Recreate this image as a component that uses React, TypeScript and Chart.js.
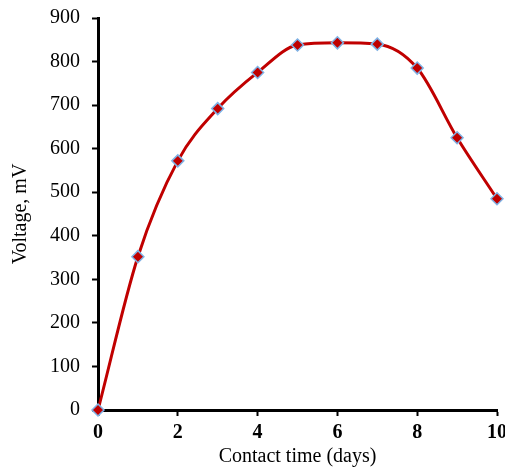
import React, { useEffect, useRef } from "react";
import { Chart, registerables } from "chart.js";

Chart.register(...registerables);

const contactDays = [0, 1, 2, 3, 4, 5, 6, 7, 8, 9, 10];
const voltageMv = [0, 352, 572, 692, 775, 838, 843, 840, 785, 625, 485];
const xAxisTitle = "Contact time (days)";
const yAxisTitle = "Voltage, mV";

export default function App() {
  const ref = useRef<HTMLCanvasElement | null>(null);
  useEffect(() => {
    if (!ref.current) return;
    const font = "'Liberation Serif', 'Times New Roman', serif";
    const chart = new Chart(ref.current, {
      type: "line",
      data: {
        datasets: [
          {
            data: contactDays.map((d, i) => ({ x: d, y: voltageMv[i] })),
            borderColor: "#c00000",
            borderWidth: 3,
            cubicInterpolationMode: "monotone",
            tension: 0.4,
            pointStyle: "rectRot",
            pointRadius: 6,
            pointBackgroundColor: "#c00000",
            pointBorderColor: "#7fb2e5",
            pointBorderWidth: 1.5,
            clip: false,
          } as any,
        ],
      },
      options: {
        animation: false,
        responsive: false,
        layout: { padding: { top: 18, right: 8, left: 9, bottom: 0 } },
        plugins: { legend: { display: false }, tooltip: { enabled: false } },
        scales: {
          x: {
            type: "linear",
            min: 0,
            max: 10,
            ticks: {
              stepSize: 2,
              color: "#000",
              font: { family: font, size: 20, weight: "bold" },
              padding: 5,
              maxRotation: 0,
            },
            grid: {
              display: true,
              drawOnChartArea: false,
              drawTicks: true,
              tickLength: 6,
              tickColor: "#000",
              tickWidth: 2,
            },
            border: { display: true, color: "#000", width: 3 },
            title: {
              display: true,
              text: xAxisTitle,
              color: "#000",
              font: { family: font, size: 20 },
              padding: { top: 0, bottom: -2 },
            },
            afterFit: (s: any) => {
              s.height = 57;
              s.paddingLeft = 0;
              s.paddingRight = 0;
            },
          },
          y: {
            type: "linear",
            min: 0,
            max: 900,
            ticks: {
              stepSize: 100,
              color: "#000",
              font: { family: font, size: 20 },
              padding: 12,
            },
            grid: {
              display: true,
              drawOnChartArea: false,
              drawTicks: true,
              tickLength: 6,
              tickColor: "#000",
              tickWidth: 2,
            },
            border: { display: true, color: "#000", width: 3 },
            title: {
              display: true,
              text: yAxisTitle,
              color: "#000",
              font: { family: font, size: 20 },
              padding: { top: 0, bottom: 0 },
            },
            afterFit: (s: any) => {
              s.width = 89;
              s.paddingTop = 0;
              s.paddingBottom = 0;
            },
          },
        },
      },
    });
    return () => chart.destroy();
  }, []);
  return (
    <div style={{ position: "fixed", left: 0, top: 0, width: 505, height: 467, background: "#fff" }}>
      <canvas ref={ref} width={505} height={467} style={{ width: 505, height: 467 }} />
    </div>
  );
}
